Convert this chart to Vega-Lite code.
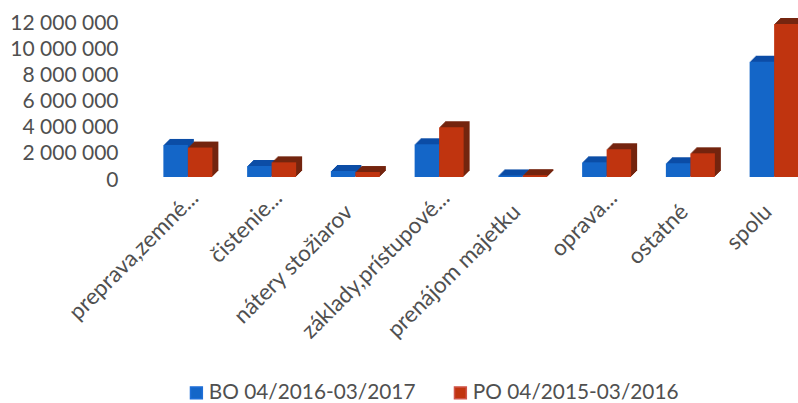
{
"$schema":"https://vega.github.io/schema/vega-lite/v6.json",
"width":652,"height":157,
"autosize":{"type":"none"},
"padding":{"left":146,"top":20,"right":0,"bottom":226},
"background":"white",
"config":{"view":{"stroke":null},"font":"Lato"},
"datasets":{"d":[
{"c":"preprava,zemné...","s":"BO 04/2016-03/2017","v":2450000},
{"c":"preprava,zemné...","s":"PO 04/2015-03/2016","v":2250000},
{"c":"čistenie...","s":"BO 04/2016-03/2017","v":840000},
{"c":"čistenie...","s":"PO 04/2015-03/2016","v":1120000},
{"c":"nátery stožiarov","s":"BO 04/2016-03/2017","v":460000},
{"c":"nátery stožiarov","s":"PO 04/2015-03/2016","v":380000},
{"c":"základy,prístupové...","s":"BO 04/2016-03/2017","v":2500000},
{"c":"základy,prístupové...","s":"PO 04/2015-03/2016","v":3800000},
{"c":"prenájom majetku","s":"BO 04/2016-03/2017","v":120000},
{"c":"prenájom majetku","s":"PO 04/2015-03/2016","v":140000},
{"c":"oprava...","s":"BO 04/2016-03/2017","v":1120000},
{"c":"oprava...","s":"PO 04/2015-03/2016","v":2120000},
{"c":"ostatné","s":"BO 04/2016-03/2017","v":1050000},
{"c":"ostatné","s":"PO 04/2015-03/2016","v":1810000},
{"c":"spolu","s":"BO 04/2016-03/2017","v":8800000},
{"c":"spolu","s":"PO 04/2015-03/2016","v":11700000}
]},
"data":{"name":"d"},
"encoding":{
"x":{"field":"c","type":"nominal","sort":null,"title":null,
"scale":{"type":"band","range":[0,670],"paddingInner":0,"paddingOuter":0},
"axis":{"labelAngle":-45,"labelAlign":"right","labelBaseline":"middle","labelFontSize":22.5,"labelColor":"#505050","domain":false,"ticks":false,"labelLimit":300,"labelOverlap":false,
"labelOffset":{"expr":"indexof(datum.label,'...')>=0?7:-6"},
"labelPadding":{"expr":"indexof(datum.label,'...')>=0?17:31"}}},
"y":{"field":"v","type":"quantitative","title":null,
"scale":{"domain":[0,12000000],"nice":false},
"axis":{"values":[0,2000000,4000000,6000000,8000000,10000000,12000000],"labelExpr":"replace(format(datum.value,','),/,/g,' ')","labelFontSize":21,"labelColor":"#505050","domain":false,"ticks":false,"grid":false,"labelPadding":28,"labelOffset":3}},
"y2":{"datum":0}
},
"layer":[
{"transform":[{"filter":"datum.s[0]=='B'"}],"mark":{"type":"bar","width":24.5,"xOffset":-6.25,"yOffset":-6,"y2Offset":-6,"color":"#0c4da6"}},
{"transform":[{"filter":"datum.s[0]=='B'"}],"mark":{"type":"bar","width":24.5,"xOffset":-7.25,"yOffset":-5,"y2Offset":-5,"color":"#0c4da6"}},
{"transform":[{"filter":"datum.s[0]=='B'"}],"mark":{"type":"bar","width":24.5,"xOffset":-8.25,"yOffset":-4,"y2Offset":-4,"color":"#0c4da6"}},
{"transform":[{"filter":"datum.s[0]=='B'"}],"mark":{"type":"bar","width":24.5,"xOffset":-9.25,"yOffset":-3,"y2Offset":-3,"color":"#0c4da6"}},
{"transform":[{"filter":"datum.s[0]=='B'"}],"mark":{"type":"bar","width":24.5,"xOffset":-10.25,"yOffset":-2,"y2Offset":-2,"color":"#0c4da6"}},
{"transform":[{"filter":"datum.s[0]=='B'"}],"mark":{"type":"bar","width":24.5,"xOffset":-11.25,"yOffset":-1,"y2Offset":-1,"color":"#0c4da6"}},
{"transform":[{"filter":"datum.s[0]=='P'"}],"mark":{"type":"bar","width":24.5,"xOffset":18.25,"yOffset":-6,"y2Offset":-6,"color":"#74250f"}},
{"transform":[{"filter":"datum.s[0]=='P'"}],"mark":{"type":"bar","width":24.5,"xOffset":17.25,"yOffset":-5,"y2Offset":-5,"color":"#74250f"}},
{"transform":[{"filter":"datum.s[0]=='P'"}],"mark":{"type":"bar","width":24.5,"xOffset":16.25,"yOffset":-4,"y2Offset":-4,"color":"#74250f"}},
{"transform":[{"filter":"datum.s[0]=='P'"}],"mark":{"type":"bar","width":24.5,"xOffset":15.25,"yOffset":-3,"y2Offset":-3,"color":"#74250f"}},
{"transform":[{"filter":"datum.s[0]=='P'"}],"mark":{"type":"bar","width":24.5,"xOffset":14.25,"yOffset":-2,"y2Offset":-2,"color":"#74250f"}},
{"transform":[{"filter":"datum.s[0]=='P'"}],"mark":{"type":"bar","width":24.5,"xOffset":13.25,"yOffset":-1,"y2Offset":-1,"color":"#74250f"}},
{"transform":[{"filter":"datum.s[0]=='B'"}],"mark":{"type":"bar","width":24.5,"xOffset":-12.25},"encoding":{"color":{"field":"s","type":"nominal","title":null,"scale":{"domain":["BO 04/2016-03/2017","PO 04/2015-03/2016"],"range":["#1466c8","#c0340f"]},
"legend":{"orient":"none","legendX":40,"legendY":362,"direction":"horizontal","columns":2,"symbolType":"square","symbolSize":140,"labelFontSize":20.8,"labelColor":"#505050","labelOffset":2,"columnPadding":34,"labelLimit":300,
"encode":{"symbols":{"update":{"fill":{"signal":"datum.value[0]=='B'?'#1f6fd8':'#d0554a'"},"stroke":{"signal":"datum.value[0]=='B'?'#1f6fd8':'#d0554a'"}}}}}}}},
{"transform":[{"filter":"datum.s[0]=='P'"}],"mark":{"type":"bar","width":24.5,"xOffset":12.25},"encoding":{"color":{"field":"s","type":"nominal","title":null}}}
]
}
